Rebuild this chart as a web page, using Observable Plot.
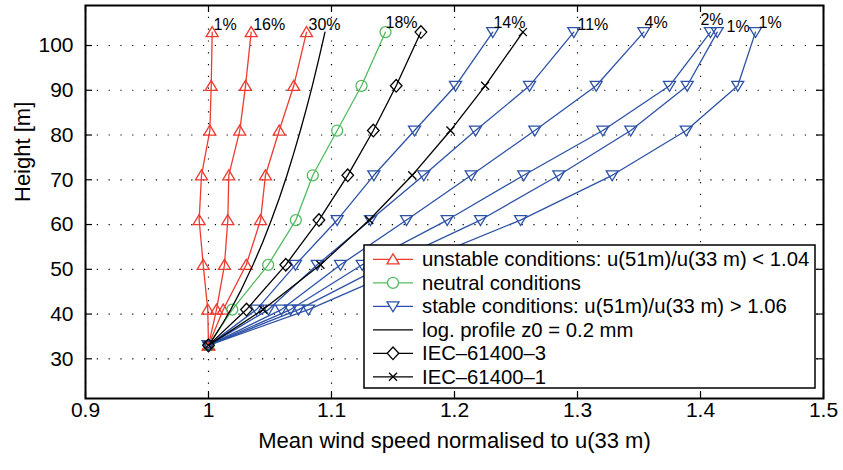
<!DOCTYPE html>
<html><head><meta charset="utf-8">
<script src="https://cdn.jsdelivr.net/npm/d3@7"></script>
<script src="https://cdn.jsdelivr.net/npm/@observablehq/plot@0.6"></script>
<style>body{margin:0;background:#fff}#chart{width:843px;height:470px}</style>
</head><body><div id="chart"></div>
<script>
// ---------- data ----------
const heights = [33, 41, 51, 61, 71, 81, 91, 103];
const unstable1 = [1, 0.9994, 0.9957, 0.9924, 0.9943, 1.0011, 1.0022, 1.0030];
const unstable2 = [1, 1.0065, 1.0130, 1.0157, 1.0165, 1.0254, 1.0301, 1.0347];
const unstable3 = [1, 1.0120, 1.0307, 1.0423, 1.0463, 1.0575, 1.0693, 1.0797];
const neutral   = [1, 1.0193, 1.0485, 1.0710, 1.0848, 1.1046, 1.1244, 1.1439];
const stable1 = [1, 1.0390, 1.0707, 1.1046, 1.1344, 1.1675, 1.2008, 1.2311];
const stable2 = [1, 1.0488, 1.0884, 1.1317, 1.1750, 1.2171, 1.2610, 1.2970];
const stable3 = [1, 1.0593, 1.1073, 1.1610, 1.2136, 1.2653, 1.3152, 1.3539];
const stable4 = [1, 1.0667, 1.1250, 1.1941, 1.2563, 1.3206, 1.3748, 1.4081];
const stable5 = [1, 1.0732, 1.1439, 1.2211, 1.2848, 1.3433, 1.3892, 1.4136];
const stable6 = [1, 1.0813, 1.1650, 1.2537, 1.3282, 1.3884, 1.4303, 1.4447];
const iec3 = [1, 1.0309, 1.0628, 1.0898, 1.1132, 1.1340, 1.1526, 1.1727];
const iec1 = [1, 1.0444, 1.0910, 1.1307, 1.1656, 1.1967, 1.2249, 1.2556];
const logHeights = [33, 35, 38, 41, 45, 51, 56, 61, 66, 71, 76, 81, 86, 91, 97, 103];
const logProfile = [1, 1.0049, 1.0117, 1.0181, 1.0258, 1.0362, 1.0440, 1.0511, 1.0577, 1.0638, 1.0694, 1.0747, 1.0797, 1.0844, 1.0897, 1.0947];
const unstableLabels = ["1%", "16%", "30%"];
const neutralLabels = ["18%"];
const stableLabels = ["14%", "11%", "4%", "2%", "1%", "1%"];
const legendLabels = [
  "unstable conditions: u(51m)/u(33 m) < 1.04",
  "neutral conditions",
  "stable conditions: u(51m)/u(33 m) > 1.06",
  "log. profile z0 = 0.2 mm",
  "IEC\u201361400\u20133",
  "IEC\u201361400\u20131"
];
const xTicks = [0.9, 1, 1.1, 1.2, 1.3, 1.4, 1.5];
const xTickLabels = ["0.9", "1", "1.1", "1.2", "1.3", "1.4", "1.5"];
const yTicks = [30, 40, 50, 60, 70, 80, 90, 100];
const yTickLabels = ["30", "40", "50", "60", "70", "80", "90", "100"];
const xTitle = "Mean wind speed normalised to u(33 m)";
const yTitle = "Height [m]";

// ---------- styles ----------
const FONT = "'Liberation Sans', Arial, Helvetica, sans-serif";
const RED = "#ee3b30", GREEN = "#52bb60", BLUE = "#2c51a6", BLACK = "#000";
const LW = 1.3;
const sym = (pts) => ({draw(ctx, size) {
  const k = Math.sqrt(size / Math.PI) / 6;
  ctx.moveTo(pts[0][0] * k, pts[0][1] * k);
  for (let i = 1; i < pts.length; i++) ctx.lineTo(pts[i][0] * k, pts[i][1] * k);
  ctx.closePath();
}});
const triUp = sym([[0, -5.5], [6, 4.5], [-6, 4.5]]);
const triDown = sym([[-6, -4.5], [6, -4.5], [0, 5.5]]);
const diamond = sym([[0, -6.3], [5.8, 0], [0, 6.3], [-5.8, 0]]);
const circle = {draw(ctx, size) { const r = 5.5 * Math.sqrt(size / Math.PI) / 6; ctx.moveTo(r, 0); ctx.arc(0, 0, r, 0, 2 * Math.PI); }};
const xmark = {draw(ctx, size) { const k = 4 * Math.sqrt(size / Math.PI) / 6; ctx.moveTo(-k, -k); ctx.lineTo(k, k); ctx.moveTo(-k, k); ctx.lineTo(k, -k); }};

const toRows = (vals, name, hs = heights) => vals.map((u, i) => ({u, z: hs[i], s: name}));
const groups = [
  {series: [unstable1, unstable2, unstable3], color: RED, symbol: triUp, labels: unstableLabels,
   off: [[1.3, -7.0], [2, -7.0], [2, -7.0]]},
  {series: [neutral], color: GREEN, symbol: circle, labels: neutralLabels, off: [[0, -9.4]]},
  {series: [stable1, stable2, stable3, stable4, stable5, stable6], color: BLUE, symbol: triDown, labels: stableLabels,
   off: [[0.7, -9.4], [3.7, -7.5], [0.7, -9.4], [-10, -12], [9.3, -5], [3, -9.4]]}
];

const W = 843, H = 470, mL = 85, mR = 20, mT = 5, mB = 72;
const pw = W - mL - mR, ph = H - mT - mB;
const marks = [];
// grid
marks.push(Plot.ruleX(xTicks, {x: d => d, stroke: BLACK, strokeWidth: 1.2, strokeDasharray: "1.2,10.6"}));
marks.push(Plot.ruleY(yTicks, {y: d => d, stroke: BLACK, strokeWidth: 1.2, strokeDasharray: "1.2,10.6"}));
// data
groups.forEach((g, gi) => {
  g.series.forEach((vals, si) => {
    const rows = toRows(vals, gi + "-" + si);
    marks.push(Plot.line(rows, {x: "u", y: "z", stroke: g.color, strokeWidth: LW}));
    marks.push(Plot.dot(rows, {x: "u", y: "z", symbol: g.symbol, r: 6, stroke: g.color, strokeWidth: LW, fill: "none"}));
  });
});
marks.push(Plot.line(toRows(logProfile, "log", logHeights), {x: "u", y: "z", stroke: BLACK, strokeWidth: LW}));
[[iec3, diamond], [iec1, xmark]].forEach(([vals, s], i) => {
  const rows = toRows(vals, "iec" + i);
  marks.push(Plot.line(rows, {x: "u", y: "z", stroke: BLACK, strokeWidth: LW}));
  marks.push(Plot.dot(rows, {x: "u", y: "z", symbol: s, r: 6, stroke: BLACK, strokeWidth: LW, fill: "none"}));
});
// percentage labels at the top point of each profile
groups.forEach(g => {
  g.series.forEach((vals, si) => {
    const last = vals.length - 1;
    marks.push(Plot.text([{u: vals[last], z: heights[last], t: g.labels[si]}],
      {x: "u", y: "z", text: "t", textAnchor: "start", dx: g.off[si][0], dy: g.off[si][1], fontSize: 16, fill: BLACK}));
  });
});
// inward ticks on all four sides
marks.push(Plot.tickX(xTicks, {x: d => d, insetTop: ph - 7, stroke: BLACK, strokeWidth: 1.2}));
marks.push(Plot.tickX(xTicks, {x: d => d, insetBottom: ph - 7, stroke: BLACK, strokeWidth: 1.2}));
marks.push(Plot.tickY(yTicks, {y: d => d, insetRight: pw - 7, stroke: BLACK, strokeWidth: 1.2}));
marks.push(Plot.tickY(yTicks, {y: d => d, insetLeft: pw - 7, stroke: BLACK, strokeWidth: 1.2}));
marks.push(Plot.frame({stroke: BLACK, strokeWidth: 2}));
// axis titles
marks.push(Plot.text([xTitle], {frameAnchor: "bottom", dy: 49, fontSize: 22, fill: BLACK}));
marks.push(Plot.text([yTitle], {frameAnchor: "left", dx: -63, rotate: -90, fontSize: 22, fill: BLACK}));

const pick = (ticks, labels) => d => labels[ticks.findIndex(t => Math.abs(t - d) < 1e-9)];
const chart = Plot.plot({
  width: W, height: H, marginLeft: mL, marginRight: mR, marginTop: mT, marginBottom: mB,
  x: {domain: [0.9, 1.5], ticks: xTicks, tickFormat: pick(xTicks, xTickLabels), tickSize: 0, tickPadding: 4, label: null},
  y: {domain: [21.13, 108.94], ticks: yTicks, tickFormat: pick(yTicks, yTickLabels), tickSize: 0, tickPadding: 12, label: null},
  style: {fontFamily: FONT, fontSize: "21px", background: "white", color: "black"},
  marks
});

// legend box (inside the plot area, lower right)
const lg = d3.select(chart).append("g").attr("font-family", FONT).attr("text-anchor", "start");
lg.append("rect").attr("x", 364).attr("y", 245).attr("width", 451).attr("height", 143)
  .attr("fill", "white").attr("stroke", BLACK).attr("stroke-width", 1.5);
const legendStyles = [[RED, triUp], [GREEN, circle], [BLUE, triDown], [BLACK, null], [BLACK, diamond], [BLACK, xmark]];
legendLabels.forEach((lab, i) => {
  const y = 259.3 + i * 23.5;
  const [c, s] = legendStyles[i];
  lg.append("line").attr("x1", 373).attr("x2", 413).attr("y1", y).attr("y2", y).attr("stroke", c).attr("stroke-width", LW);
  if (s) {
    const p = d3.path(); s.draw(p, 36 * Math.PI);
    lg.append("path").attr("d", p.toString()).attr("transform", `translate(393,${y})`)
      .attr("fill", "white").attr("stroke", c).attr("stroke-width", LW);
  }
  lg.append("text").attr("x", 422).attr("y", y).attr("dy", "0.35em").attr("text-anchor", "start")
    .attr("font-size", 20.3).attr("fill", BLACK).text(lab);
});
document.getElementById("chart").appendChild(chart);
</script></body></html>
